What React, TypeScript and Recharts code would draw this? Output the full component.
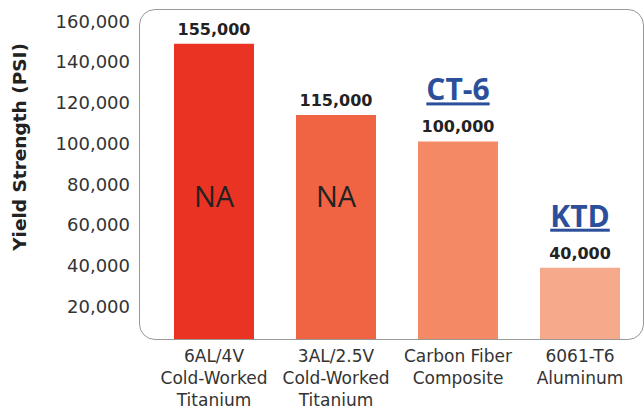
import React from 'react'
import { BarChart, Bar, XAxis, YAxis, Cell, LabelList } from 'recharts'

const MATERIALS = [
  '6AL/4V\nCold-Worked\nTitanium',
  '3AL/2.5V\nCold-Worked\nTitanium',
  'Carbon Fiber\nComposite',
  '6061-T6\nAluminum',
]
const BAR_HEIGHTS = [149000, 114000, 101000, 39000]
const VALUE_LABELS = ['155,000', '115,000', '100,000', '40,000']
const INNER_LABELS = ['NA', 'NA', '', '']
const BRAND_LABELS = ['', '', 'CT-6', 'KTD']
const Y_TICKS = [20000, 40000, 60000, 80000, 100000, 120000, 140000, 160000]
const COLORS = ['#ea3323', '#f06443', '#f48965', '#f7a98b']

const data = MATERIALS.map((name, i) => ({
  name,
  value: BAR_HEIGHTS[i],
  label: VALUE_LABELS[i],
  inner: INNER_LABELS[i],
  brand: BRAND_LABELS[i],
}))

const SANS = 'DejaVu Sans, sans-serif'

function MultiTick(props: any) {
  const { x, y, payload } = props
  const lines = String(payload.value).split('\n')
  return (
    <text x={x} y={y + 15} textAnchor="middle" fill="#333" fontSize={17} fontFamily={SANS}>
      {lines.map((l, i) => (
        <tspan key={i} x={x} dy={i === 0 ? 0 : 22}>{l}</tspan>
      ))}
    </text>
  )
}

function TopLabels(props: any) {
  const { x, y, width, index } = props
  const d = data[index]
  const cx = x + width / 2
  return (
    <g>
      <text x={cx} y={y - 9} textAnchor="middle" fill="#222" fontSize={16} fontWeight="bold" fontFamily={SANS}>
        {d.label}
      </text>
      {d.brand && (
        <text x={cx} y={y - 41} textAnchor="middle" fill="#2b4f9a" fontSize={30} fontWeight="bold"
          fontFamily="Open Sans, sans-serif" style={{ textDecoration: 'underline' }}>
          {d.brand}
        </text>
      )}
      {d.inner && (
        <text x={cx} y={207} textAnchor="middle" fill="#222" fontSize={29} fontFamily="Open Sans, sans-serif">
          {d.inner}
        </text>
      )}
    </g>
  )
}

function YTitle() {
  return (
    <text x={0} y={0} transform="translate(26,147) rotate(-90)" textAnchor="middle"
      fill="#222" fontSize={18.5} fontWeight="bold" fontFamily={SANS}>
      Yield Strength (PSI)
    </text>
  )
}

export default function App() {
  return (
    <div style={{ position: 'absolute', left: 0, top: 0, width: 644, height: 411, background: '#fff' }}>
      <div style={{
        position: 'absolute', left: 139, top: 9, width: 505, height: 331,
        border: '1.5px solid #999', borderRadius: 16, boxSizing: 'border-box',
      }} />
      <BarChart width={644} height={411} data={data}
        margin={{ top: 9, right: 3, bottom: 0, left: 0 }} barSize={80}>
        <XAxis dataKey="name" axisLine={false} tickLine={false} interval={0}
          padding={{ left: 14, right: 0 }} tick={<MultiTick />} height={72} />
        <YAxis width={139} domain={[4000, 166000]} ticks={Y_TICKS} axisLine={false} tickLine={false}
          tickMargin={3} allowDataOverflow
          tickFormatter={(v: number) => v.toLocaleString('en-US')}
          tick={{ fill: '#333', fontSize: 18, fontFamily: SANS }}
          label={<YTitle />} />
        <Bar dataKey="value" isAnimationActive={false}>
          {data.map((_, i) => (
            <Cell key={i} fill={COLORS[i]} />
          ))}
          <LabelList dataKey="label" content={<TopLabels />} />
        </Bar>
      </BarChart>
    </div>
  )
}
